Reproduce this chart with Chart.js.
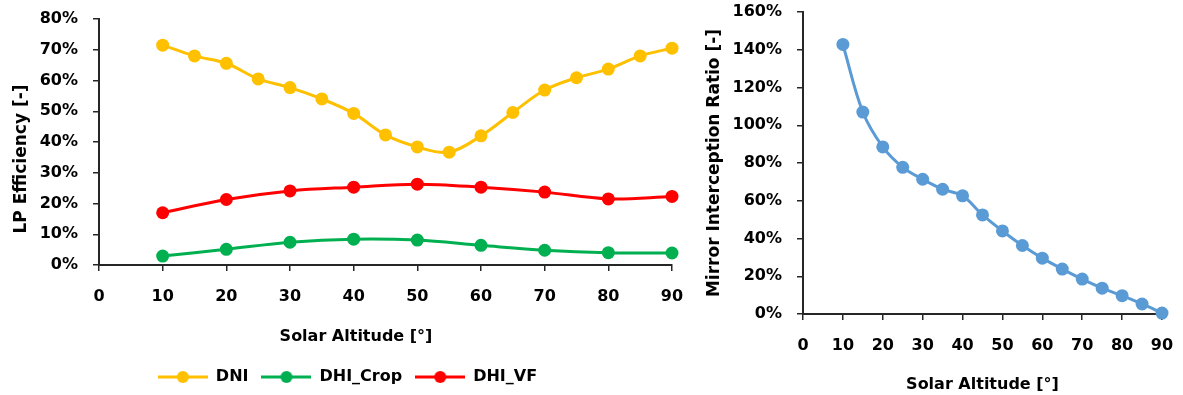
<!DOCTYPE html>
<html>
<head>
<meta charset="utf-8">
<script src="https://cdn.jsdelivr.net/npm/chart.js@4.4.1/dist/chart.umd.min.js"></script>
<style>
  html, body { margin: 0; padding: 0; background: #ffffff; }
  #wrap { position: relative; width: 1183px; height: 395px; overflow: hidden; }
  #leftBox { position: absolute; left: 0; top: 0; width: 700px; height: 395px; }
  #rightBox { position: absolute; left: 700px; top: 0; width: 483px; height: 395px; }
</style>
</head>
<body>
<div id="wrap">
  <div id="leftBox"><canvas id="leftChart" width="700" height="395"></canvas></div>
  <div id="rightBox"><canvas id="rightChart" width="483" height="395"></canvas></div>
</div>
<script>
// ---- data ----
const altitudesFine = [10, 15, 20, 25, 30, 35, 40, 45, 50, 55, 60, 65, 70, 75, 80, 85, 90];
const altitudesCoarse = [10, 20, 30, 40, 50, 60, 70, 80, 90];
const dniValues = [71.5, 68.0, 65.6, 60.5, 57.7, 54.0, 49.3, 42.3, 38.4, 36.7, 42.0, 49.6, 56.9, 60.9, 63.7, 68.0, 70.5];
const dhiCropValues = [2.9, 5.1, 7.4, 8.4, 8.1, 6.4, 4.8, 4.0, 3.9];
const dhiVfValues = [17.0, 21.3, 24.1, 25.3, 26.3, 25.3, 23.7, 21.5, 22.3];
const mirrorValues = [142.8, 107.0, 88.5, 77.7, 71.4, 66.1, 62.6, 52.5, 44.0, 36.3, 29.6, 23.8, 18.5, 13.7, 9.7, 5.3, 0.5];
const seriesNames = ['DNI', 'DHI_Crop', 'DHI_VF'];
const xTicks = [0, 10, 20, 30, 40, 50, 60, 70, 80, 90];
const xTitle = 'Solar Altitude [°]';
const leftYTitle = 'LP Efficiency [-]';
const rightYTitle = 'Mirror Interception Ratio [-]';

// ---- styles ----
const FONT = 'DejaVu Sans';
const TEXT = '#000000';
const AXIS = '#262626';
const colors = { dni: '#FFC000', crop: '#00B050', vf: '#FF0000', mirror: '#5B9BD5' };

function pairs(xs, ys) { return xs.map((x, i) => ({ x: x, y: ys[i] })); }

function legendMarker(color) {
  const c = document.createElement('canvas');
  c.width = 50; c.height = 14;
  const g = c.getContext('2d');
  g.strokeStyle = color; g.lineWidth = 3;
  g.beginPath(); g.moveTo(0, 7); g.lineTo(50, 7); g.stroke();
  g.fillStyle = color;
  g.beginPath(); g.arc(25, 7, 6, 0, Math.PI * 2); g.fill();
  return c;
}

function lineSet(label, data, color) {
  return {
    label: label, data: data, borderColor: color, backgroundColor: color,
    borderWidth: 3, pointRadius: 6.5, pointBorderWidth: 0, pointBackgroundColor: color,
    tension: 0.35, clip: false, fill: false
  };
}

function axisX(height) {
  return {
    type: 'linear', min: 0, max: 90,
    afterBuildTicks: s => { s.ticks = xTicks.map(v => ({ value: v })); },
    ticks: { color: TEXT, font: { family: FONT, size: 16, weight: 'bold' }, padding: 16, maxRotation: 0 },
    grid: { display: true, drawOnChartArea: false, drawTicks: true, tickLength: 6, color: AXIS, lineWidth: 1.5 },
    border: { display: true, color: AXIS, width: 2 },
    afterFit: s => { s.height = height; s.paddingLeft = 0; s.paddingRight = 0; }
  };
}

function axisY(max, step, width) {
  return {
    type: 'linear', min: 0, max: max,
    ticks: { stepSize: step, color: TEXT, font: { family: FONT, size: 16, weight: 'bold' }, padding: 15, callback: v => v + '%' },
    grid: { display: true, drawOnChartArea: false, drawTicks: true, tickLength: 6, color: AXIS, lineWidth: 1.5 },
    border: { display: true, color: AXIS, width: 2 },
    afterFit: s => { s.width = width; s.paddingTop = 0; s.paddingBottom = 0; }
  };
}

// titles of the left chart (placed as in the reference)
const leftTitles = {
  id: 'leftTitles',
  afterDraw(chart) {
    const ctx = chart.ctx;
    ctx.save();
    ctx.fillStyle = TEXT;
    ctx.textAlign = 'center';
    ctx.textBaseline = 'middle';
    ctx.font = 'bold 16px "' + FONT + '"';
    ctx.fillText(xTitle, 356, 337);
    ctx.font = 'bold 17px "' + FONT + '"';
    ctx.translate(22, 159);
    ctx.rotate(-Math.PI / 2);
    ctx.fillText(leftYTitle, 0, 0);
    ctx.restore();
  }
};

const markerColors = [colors.dni, colors.crop, colors.vf];

new Chart(document.getElementById('leftChart'), {
  type: 'line',
  data: {
    datasets: [
      lineSet(seriesNames[0], pairs(altitudesFine, dniValues), colors.dni),
      lineSet(seriesNames[1], pairs(altitudesCoarse, dhiCropValues), colors.crop),
      lineSet(seriesNames[2], pairs(altitudesCoarse, dhiVfValues), colors.vf)
    ]
  },
  options: {
    responsive: false, animation: false, devicePixelRatio: 1,
    layout: { autoPadding: false, padding: { left: 23, top: 19, right: 28, bottom: 0 } },
    scales: { x: axisX(91), y: axisY(80, 10, 76) },
    plugins: {
      tooltip: { enabled: false },
      legend: {
        position: 'bottom',
        labels: {
          usePointStyle: true, pointStyleWidth: 50, padding: 13, color: TEXT,
          font: { family: FONT, size: 16, weight: 'bold' },
          generateLabels: chart => chart.data.datasets.map((d, i) => ({
            text: d.label, pointStyle: legendMarker(markerColors[i]),
            fillStyle: markerColors[i], strokeStyle: markerColors[i], lineWidth: 0,
            hidden: false, datasetIndex: i, fontColor: TEXT
          }))
        }
      }
    }
  },
  plugins: [leftTitles]
});

new Chart(document.getElementById('rightChart'), {
  type: 'line',
  data: {
    datasets: [ lineSet('Mirror Interception Ratio', pairs(altitudesFine, mirrorValues), colors.mirror) ]
  },
  options: {
    responsive: false, animation: false, devicePixelRatio: 1,
    layout: { autoPadding: false, padding: { left: 0, top: 12, right: 21, bottom: 0 } },
    scales: {
      x: Object.assign(axisX(81), { title: { display: true, text: xTitle, color: TEXT, font: { family: FONT, size: 16, weight: 'bold' }, padding: { top: 0, bottom: 1 } } }),
      y: Object.assign(axisY(160, 20, 103), { title: { display: true, text: rightYTitle, color: TEXT, font: { family: FONT, size: 17, weight: 'bold' }, padding: { top: 4, bottom: 0 } } })
    },
    plugins: { legend: { display: false }, tooltip: { enabled: false } }
  }
});
</script>
</body>
</html>
